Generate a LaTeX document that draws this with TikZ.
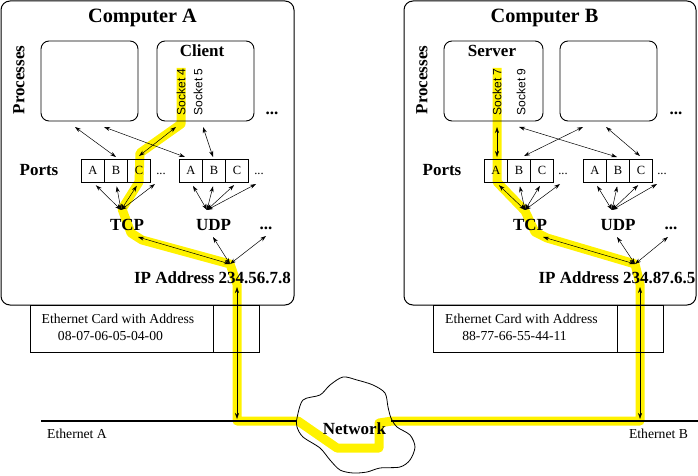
\documentclass[tikz,border=0pt]{standalone}
\usepackage{fontspec}
\setmainfont{Liberation Serif}
\setsansfont{Liberation Sans}
\usetikzlibrary{arrows.meta}

\begin{document}
\begin{tikzpicture}[x=1pt,y=-1pt,>={Stealth[length=6pt,width=4pt]},
  comp/.style={draw,line width=1pt,rounded corners=9pt,inner sep=0pt},
  proc/.style={draw,line width=0.9pt,rounded corners=8pt,minimum width=97pt,minimum height=80pt,inner sep=0pt},
  port/.style={draw,line width=0.8pt,minimum width=23pt,minimum height=23pt,inner sep=0pt,font=\fontsize{12.5}{13}\selectfont},
  card/.style={draw,line width=0.9pt,inner sep=0pt},
  ttl/.style={font=\fontsize{20.3}{22}\selectfont\bfseries},
  bigtext/.style={font=\fontsize{17}{18}\selectfont\bfseries},
  cardtext/.style={font=\fontsize{13.7}{15}\selectfont},
  sock/.style={rotate=90,font=\sffamily\fontsize{12}{13}\selectfont},
  dots/.style={font=\fontsize{12.5}{13}\selectfont},
  link/.style={<->,line width=0.5pt},
  hilite/.style={yellow,line width=9pt,line join=round}]
  \useasboundingbox (0,0) rectangle (698,476);

  \draw[hilite] (181,68) -- (181,124) -- (140,153) -- (139,182) -- (122,209) -- (131,233) -- (142,240) -- (230,264) -- (237,284) -- (237,421) -- (298,421) -- (337,448) -- (379,448) -- (379,423) -- (392,421) -- (640,421) -- (640,284) -- (635,264) -- (547,238) -- (535,232) -- (525,211) -- (497,182) -- (497,68);

  \node[comp,minimum width=293pt,minimum height=304pt] (compA) at (147.5,153) {};
  \node[ttl,anchor=base] (nameA) at (142.5,23) {Computer A};
  \node[bigtext,rotate=90] (procsA) at (19,80) {Processes};
  \node[proc] (procA1) at (89.5,81) {};
  \node[proc] (procA2) at (205.5,81) {};
  \node[bigtext,anchor=base] (client) at (202,57) {Client};
  \node[sock] (sock4) at (181,92) {Socket 4};
  \node[sock] (sock5) at (198,92) {Socket 5};
  \node[bigtext] (moreA) at (272,113) {...};
  \node[bigtext] (portsA) at (39,170.5) {Ports};
  \node[port] (AtA) at (93,170.5) {A};
  \node[port] (AtB) at (116,170.5) {B};
  \node[port] (AtC) at (139,170.5) {C};
  \node[dots] (AtD) at (161,174) {...};
  \node[port] (AuA) at (191,170.5) {A};
  \node[port] (AuB) at (214,170.5) {B};
  \node[port] (AuC) at (237,170.5) {C};
  \node[dots] (AuD) at (259,174) {...};
  \node[bigtext] (tcplA) at (127,225) {TCP};
  \node[bigtext] (udplA) at (213.5,225) {UDP};
  \node[bigtext] (etclA) at (266,228) {...};
  \node[bigtext] (ipA) at (212.5,277.5) {IP Address 234.56.7.8};

  \node[comp,minimum width=292pt,minimum height=304pt] (compB) at (550,153) {};
  \node[ttl,anchor=base] (nameB) at (544.5,23) {Computer B};
  \node[bigtext,rotate=90] (procsB) at (422,80) {Processes};
  \node[proc,minimum width=99pt] (procB1) at (493.5,81) {};
  \node[proc] (procB2) at (608.5,81) {};
  \node[bigtext,anchor=base] (server) at (492,57) {Server};
  \node[sock] (sock7) at (497,92) {Socket 7};
  \node[sock] (sock9) at (521,92) {Socket 9};
  \node[bigtext] (moreB) at (676,113) {...};
  \node[bigtext] (portsB) at (442,170.5) {Ports};
  \node[port] (BtA) at (496,170.5) {A};
  \node[port] (BtB) at (519,170.5) {B};
  \node[port] (BtC) at (542,170.5) {C};
  \node[dots] (BtD) at (563,174) {...};
  \node[port] (BuA) at (595,170.5) {A};
  \node[port] (BuB) at (618,170.5) {B};
  \node[port] (BuC) at (641,170.5) {C};
  \node[dots] (BuD) at (662,174) {...};
  \node[bigtext] (tcplB) at (530,225) {TCP};
  \node[bigtext] (udplB) at (618,225) {UDP};
  \node[bigtext] (etclB) at (671,228) {...};
  \node[bigtext] (ipB) at (617,277.5) {IP Address 234.87.6.5};

  \node[card,minimum width=229pt,minimum height=47pt] (cardA) at (144.5,328.5) {};
  \draw[line width=0.9pt] (213,305) -- (213,352);
  \node[cardtext] (macA1) at (118,319) {Ethernet Card with Address};
  \node[cardtext] (macA2) at (110.5,336.5) {08-07-06-05-04-00};
  \node[card,minimum width=230pt,minimum height=47pt] (cardB) at (548,328.5) {};
  \draw[line width=0.9pt] (617,305) -- (617,352);
  \node[cardtext] (macB1) at (521.5,319) {Ethernet Card with Address};
  \node[cardtext] (macB2) at (514.5,336.5) {88-77-66-55-44-11};

  \draw[line width=0.8pt] plot[smooth cycle] coordinates {(297,418) (303,400) (320,395) (330,385) (343,377) (357,380) (373,385) (385,393) (388,407) (391,418) (397,427) (410,435) (415,447) (410,460) (400,467) (380,468) (367,472) (353,473) (340,470) (330,460) (320,448) (303,437) (297,427)};
  \node[bigtext] (net) at (354.5,428.5) {Network};
  \coordinate (ethA) at (41,421);
  \coordinate (netL) at (297,421);
  \coordinate (netR) at (391,421);
  \coordinate (ethB) at (698,421);
  \draw[line width=2.5pt] (ethA) -- (netL);
  \draw[line width=2.5pt] (netR) -- (ethB);
  \node[cardtext] (lanA) at (77,434) {Ethernet A};
  \node[cardtext] (lanB) at (658.5,434) {Ethernet B};

  \coordinate (xA1) at (75,127);
  \coordinate (xA2) at (104,127);
  \coordinate (xA3) at (176,127);
  \coordinate (xA4) at (203,127);
  \coordinate (yA1) at (116,157);
  \coordinate (yA2) at (185,157);
  \coordinate (yA3) at (139,156);
  \coordinate (yA4) at (213,157);
  \coordinate (tcpA) at (121,210);
  \coordinate (udpA) at (207,210);
  \coordinate (eAt) at (155,184);
  \coordinate (eAu) at (256,184);
  \coordinate (atA) at (230,264);
  \coordinate (iA1) at (138,237);
  \coordinate (iA2) at (213,237);
  \coordinate (iA3) at (266,236);
  \coordinate (upA) at (237,287);
  \coordinate (dnA) at (237,419);
  \draw[link] (xA1) -- (yA1);
  \draw[link] (xA2) -- (yA2);
  \draw[link] (xA3) -- (yA3);
  \draw[link] (xA4) -- (yA4);
  \draw[link,shorten >=4pt] (tcpA) -- (AtA.south);
  \draw[link,shorten >=4pt] (tcpA) -- (AtB.south);
  \draw[link,shorten >=4pt] (tcpA) -- (AtC.south);
  \draw[link] (tcpA) -- (eAt);
  \draw[link,shorten >=4pt] (udpA) -- (AuA.south);
  \draw[link,shorten >=4pt] (udpA) -- (AuB.south);
  \draw[link,shorten >=4pt] (udpA) -- (AuC.south);
  \draw[link] (udpA) -- (eAu);
  \draw[link] (atA) -- (iA1);
  \draw[link] (atA) -- (iA2);
  \draw[link] (atA) -- (iA3);
  \draw[link] (upA) -- (dnA);

  \coordinate (xB1) at (497,127);
  \coordinate (xB2) at (519,127);
  \coordinate (xB3) at (583,127);
  \coordinate (xB4) at (606,127);
  \coordinate (yB1) at (497,157);
  \coordinate (yB2) at (617,157);
  \coordinate (yB3) at (524,156);
  \coordinate (yB4) at (640,156);
  \coordinate (tcpB) at (525,210);
  \coordinate (udpB) at (612,210);
  \coordinate (eBt) at (560,184);
  \coordinate (eBu) at (657,184);
  \coordinate (atB) at (635,264);
  \coordinate (iB1) at (543,237);
  \coordinate (iB2) at (617,237);
  \coordinate (iB3) at (668,237);
  \coordinate (upB) at (640,287);
  \coordinate (dnB) at (640,419);
  \draw[link] (xB1) -- (yB1);
  \draw[link] (xB2) -- (yB2);
  \draw[link] (xB3) -- (yB3);
  \draw[link] (xB4) -- (yB4);
  \draw[link,shorten >=4pt] (tcpB) -- (BtA.south);
  \draw[link,shorten >=4pt] (tcpB) -- (BtB.south);
  \draw[link,shorten >=4pt] (tcpB) -- (BtC.south);
  \draw[link] (tcpB) -- (eBt);
  \draw[link,shorten >=4pt] (udpB) -- (BuA.south);
  \draw[link,shorten >=4pt] (udpB) -- (BuB.south);
  \draw[link,shorten >=4pt] (udpB) -- (BuC.south);
  \draw[link] (udpB) -- (eBu);
  \draw[link] (atB) -- (iB1);
  \draw[link] (atB) -- (iB2);
  \draw[link] (atB) -- (iB3);
  \draw[link] (upB) -- (dnB);
\end{tikzpicture}
\end{document}
